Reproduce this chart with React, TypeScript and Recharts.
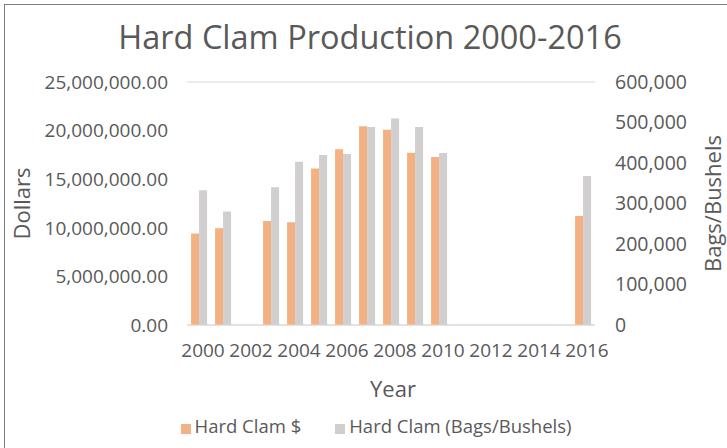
import React from 'react';
import { BarChart, Bar, XAxis, YAxis, CartesianGrid, Legend, Label } from 'recharts';

const years = ['2000', '2001', '2002', '2003', '2004', '2005', '2006', '2007', '2008', '2009', '2010', '2011', '2012', '2013', '2014', '2015', '2016'];
const dollars = [9410000, 9960000, null, 10700000, 10580000, 16100000, 18070000, 20460000, 20090000, 17730000, 17280000, null, null, null, null, null, 11220000];
const bushels = [333000, 280000, null, 340000, 403000, 420000, 422000, 489000, 510000, 489000, 425000, null, null, null, null, null, 368000];
const dollarTicks = [0, 5000000, 10000000, 15000000, 20000000, 25000000];
const bushelTicks = [0, 100000, 200000, 300000, 400000, 500000, 600000];

const data = years.map((y, i) => ({ year: y, dollars: dollars[i], bushels: bushels[i] }));

const FONT = '"Open Sans", sans-serif';
const TXT = '#595959';

export default function App() {
    return (
        <div style={{ position: 'absolute', left: 0, top: 0, width: 727, height: 448, background: '#fff', fontFamily: FONT, overflow: 'hidden' }}>
            <div style={{ position: 'absolute', left: 4, top: 4, width: 730, height: 450, borderLeft: '1px solid #7f7f7f', borderTop: '1px solid #7f7f7f' }} />
            <div style={{ position: 'absolute', left: 0, width: 740, top: 14, textAlign: 'center', fontSize: 32.5, color: TXT, lineHeight: '46px' }}>
                Hard Clam Production 2000-2016
            </div>
            <BarChart
                width={727}
                height={448}
                data={data}
                margin={{ top: 82, right: 0, bottom: 43, left: 0 }}
                barCategoryGap="17%"
                barGap={0}
                style={{ fontFamily: FONT }}
            >
                <CartesianGrid vertical={false} stroke="#d9d9d9" />
                <XAxis
                    dataKey="year"
                    interval={1}
                    height={80}
                    tickLine={false}
                    axisLine={{ stroke: '#d9d9d9' }}
                    tick={{ fill: TXT, fontSize: 19, dx: 4 }}
                    tickMargin={13}
                >
                    <Label value="Year" position="insideBottom" offset={8} dx={2} fill={TXT} fontSize={22} />
                </XAxis>
                <YAxis
                    yAxisId="left"
                    width={187}
                    domain={[0, 25000000]}
                    ticks={dollarTicks}
                    tickLine={false}
                    axisLine={false}
                    tickMargin={13}
                    tick={{ fill: TXT, fontSize: 19 }}
                    tickFormatter={(v: number) => v.toLocaleString('en-US', { minimumFractionDigits: 2, maximumFractionDigits: 2 })}
                >
                    <Label value="Dollars" angle={-90} position="insideLeft" offset={22} fill={TXT} fontSize={22} style={{ textAnchor: 'middle' }} />
                </YAxis>
                <YAxis
                    yAxisId="right"
                    orientation="right"
                    width={132}
                    domain={[0, 600000]}
                    ticks={bushelTicks}
                    tickLine={false}
                    axisLine={false}
                    tickMargin={14}
                    tick={{ fill: TXT, fontSize: 19.5, textAnchor: 'start' }}
                    tickFormatter={(v: number) => v.toLocaleString('en-US')}
                >
                    <Label value="Bags/Bushels" angle={-90} position="insideRight" offset={14} fill={TXT} fontSize={22} style={{ textAnchor: 'middle' }} />
                </YAxis>
                <Legend
                    verticalAlign="middle"
                    align="center"
                    layout="horizontal"
                    iconType="square"
                    iconSize={10}
                    wrapperStyle={{ top: 413, left: 173, width: 440 }}
                    formatter={(value: string) => <span style={{ color: TXT, fontSize: 18.5, marginRight: 24 }}>{value}</span>}
                />
                <Bar yAxisId="left" dataKey="dollars" name="Hard Clam $" fill="#f4b183" isAnimationActive={false} />
                <Bar yAxisId="right" dataKey="bushels" name="Hard Clam (Bags/Bushels)" fill="#d0cece" isAnimationActive={false} />
            </BarChart>
        </div>
    );
}
